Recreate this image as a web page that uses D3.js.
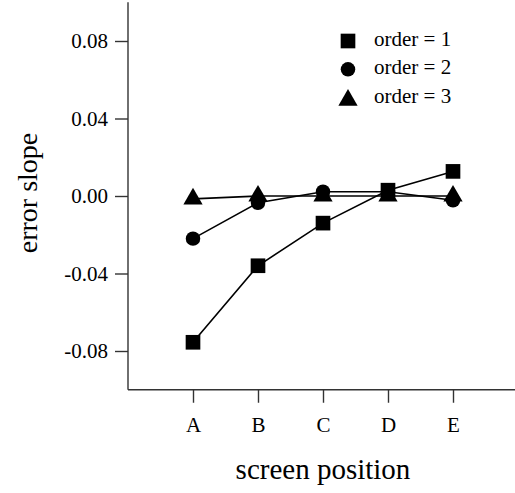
<html>
  <head>
    <meta content="text/html; charset=utf-8" http-equiv="Content-Type">
    <style>
    body { margin: 0; background: white; }
    svg text { font-family: "Liberation Serif", serif !important; fill: #000; }
    </style>
  </head>
  <body>
    <svg id="svg"></svg>

<script src="https://d3js.org/d3.v7.min.js"></script>
<script>

// chart data
const positions = ["A", "B", "C", "D", "E"];
const order1 = [-0.0755, -0.036, -0.014, 0.003, 0.0127];
const order2 = [-0.022, -0.0035, 0.0022, 0.0022, -0.0022];
const order3 = [-0.0015, 0.0, 0.0, 0.0, 0.0];
const seriesNames = ["order = 1", "order = 2", "order = 3"];
const yTicks = [-0.08, -0.04, 0.00, 0.04, 0.08];

const width = 515;
const height = 493;
const serif = "Liberation Serif, serif";

const svg = d3.select("#svg")
    .attr("width", width)
    .attr("height", height)
    .attr("font-family", serif);

svg.append("rect")
    .attr("width", width)
    .attr("height", height)
    .attr("fill", "white");

const xScale = d3.scalePoint()
    .domain(positions)
    .range([128, 518])
    .padding(1);

const yScale = d3.scaleLinear()
    .domain([-0.1, 0.1])
    .range([389.75, 2.25]);

const fmt = function(d) { return d3.format(".2f")(d).replace("\u2212", "-"); };

// y axis
const yAxis = svg.append("g")
    .attr("transform", "translate(128,0)")
    .call(d3.axisLeft(yScale).tickValues(yTicks).tickFormat(fmt).tickSize(13).tickPadding(7).tickSizeOuter(0));

// x axis
const xAxis = svg.append("g")
    .attr("transform", "translate(0,389.75)")
    .call(d3.axisBottom(xScale).tickSize(13).tickPadding(14).tickSizeOuter(0));

[xAxis, yAxis].forEach(function(ax) {
  ax.attr("font-family", serif).attr("font-size", 21);
  ax.selectAll("path, line").attr("stroke", "#333").attr("stroke-width", 1.4);
  ax.selectAll("text").attr("fill", "#000");
});
xAxis.select(".domain").attr("d", "M128,0H515");
yAxis.select(".domain").attr("d", "M0,389.75V2.25");

// axis titles
svg.append("text")
    .attr("x", 323)
    .attr("y", 479)
    .attr("text-anchor", "middle")
    .attr("font-size", 29)
    .text("screen position");

svg.append("text")
    .attr("transform", "translate(37,193) rotate(-90)")
    .attr("text-anchor", "middle")
    .attr("font-size", 28)
    .text("error slope");

// series
const series = [
  { name: seriesNames[0], values: order1, symbol: d3.symbolSquare, size: 215 },
  { name: seriesNames[1], values: order2, symbol: d3.symbolCircle, size: 165 },
  { name: seriesNames[2], values: order3, symbol: d3.symbolTriangle, size: 160 }
];

const line = d3.line()
    .x(function(d, i) { return xScale(positions[i]); })
    .y(function(d) { return yScale(d); });

// draw triangles first, squares last (squares sit on top)
series.slice().reverse().forEach(function(s) {
  svg.append("path")
      .datum(s.values)
      .attr("fill", "none")
      .attr("stroke", "#000")
      .attr("stroke-width", 1.6)
      .attr("d", line);
});

series.slice().reverse().forEach(function(s) {
  svg.selectAll(null)
      .data(s.values)
      .enter().append("path")
      .attr("transform", function(d, i) { return "translate(" + xScale(positions[i]) + "," + yScale(d) + ")"; })
      .attr("d", d3.symbol().type(s.symbol).size(s.size))
      .attr("fill", "#000");
});

// legend
const legend = svg.append("g")
    .attr("transform", "translate(348,41)");

series.forEach(function(s, i) {
  const isTri = s.symbol === d3.symbolTriangle;
  const row = legend.append("g")
      .attr("transform", "translate(0," + (i * 28.3 + (isTri ? 2.5 : 0)) + ")");
  row.append("path")
      .attr("d", d3.symbol().type(s.symbol).size(s.size))
      .attr("fill", "#000");
  row.append("text")
      .attr("x", 26)
      .attr("y", isTri ? 2.5 : 5)
      .attr("font-size", 21)
      .text(s.name);
});

</script>
</body>
</html>
